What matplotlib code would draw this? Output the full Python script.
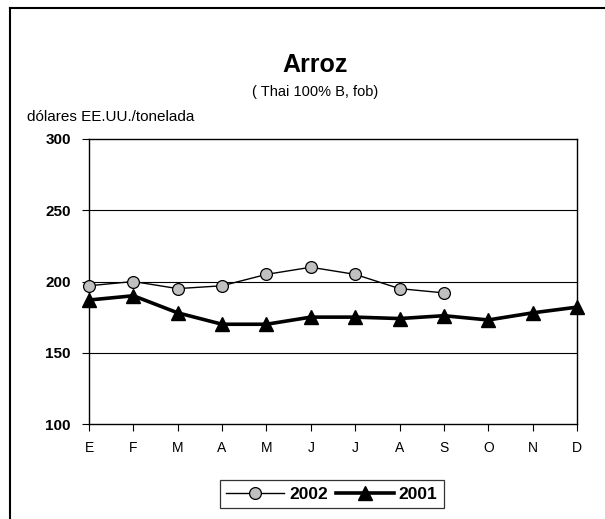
import matplotlib
matplotlib.use('Agg')
import matplotlib.pyplot as plt
from matplotlib.lines import Line2D

plt.rcParams['font.family'] = ['Liberation Sans', 'DejaVu Sans']

months = ['E', 'F', 'M', 'A', 'M', 'J', 'J', 'A', 'S', 'O', 'N', 'D']
y2002 = [197, 200, 195, 197, 205, 210, 205, 195, 192]
y2001 = [187, 190, 178, 170, 170, 175, 175, 174, 176, 173, 178, 182]
yticks = [100, 150, 200, 250, 300]

W, H = 605, 519
fig = plt.figure(figsize=(W / 100, H / 100), dpi=100)

# axes box in pixels: left 89, right 577, top 139, bottom 424
ax = fig.add_axes([89 / W, 1 - 424 / H, (577 - 89) / W, (424 - 139) / H])

x = list(range(len(months)))
ax.plot(x[:len(y2002)], y2002, color='black', lw=1.0, marker='o', ms=8.5,
        mfc='#c0c0c0', mec='black', mew=0.9, label='2002', zorder=4,
        clip_on=False)
ax.plot(x, y2001, color='black', lw=2.6, marker='^', ms=9.5,
        mfc='black', mec='black', label='2001', zorder=3, clip_on=False)

ax.set_xlim(0, 11)
ax.set_ylim(100, 300)
ax.set_xticks(x)
ax.set_xticklabels(months, fontsize=10)
ax.set_yticks(yticks)
ax.set_yticklabels([str(t) for t in yticks], fontsize=11, fontweight='bold')
ax.tick_params(axis='both', direction='out', length=5, width=0.8, color='black')
ax.tick_params(axis='x', pad=7)
ax.tick_params(axis='y', pad=8)
for t in [150, 200, 250]:
    ax.axhline(t, color='black', lw=0.8, zorder=1)
for s in ax.spines.values():
    s.set_linewidth(1.0)
    s.set_color('black')

fig.text(315 / W, 1 - 65 / H, 'Arroz', ha='center', va='center',
         fontsize=18, fontweight='bold')
fig.text(315 / W, 1 - 92 / H, '( Thai 100% B, fob)', ha='center', va='center',
         fontsize=10.5)
fig.text(27 / W, 1 - 117 / H, 'dólares EE.UU./tonelada', ha='left', va='center',
         fontsize=11)

# outer frame (left and top edges visible)
fig.add_artist(Line2D([10 / W, 10 / W], [1 - 8 / H, 0], color='black', lw=1.5,
                      transform=fig.transFigure))
fig.add_artist(Line2D([10 / W, 1], [1 - 8 / H, 1 - 8 / H], color='black', lw=1.5,
                      transform=fig.transFigure))

leg = fig.legend(loc='center', bbox_to_anchor=(332 / W, 1 - 494 / H), ncol=2,
                 frameon=True, fancybox=False, edgecolor='black', handlelength=3.3,
                 handletextpad=0.3, columnspacing=0.5, borderpad=0.35,
                 prop={'weight': 'bold', 'size': 12.5})
leg.get_frame().set_linewidth(0.9)

fig.savefig('out.png', dpi=100)
